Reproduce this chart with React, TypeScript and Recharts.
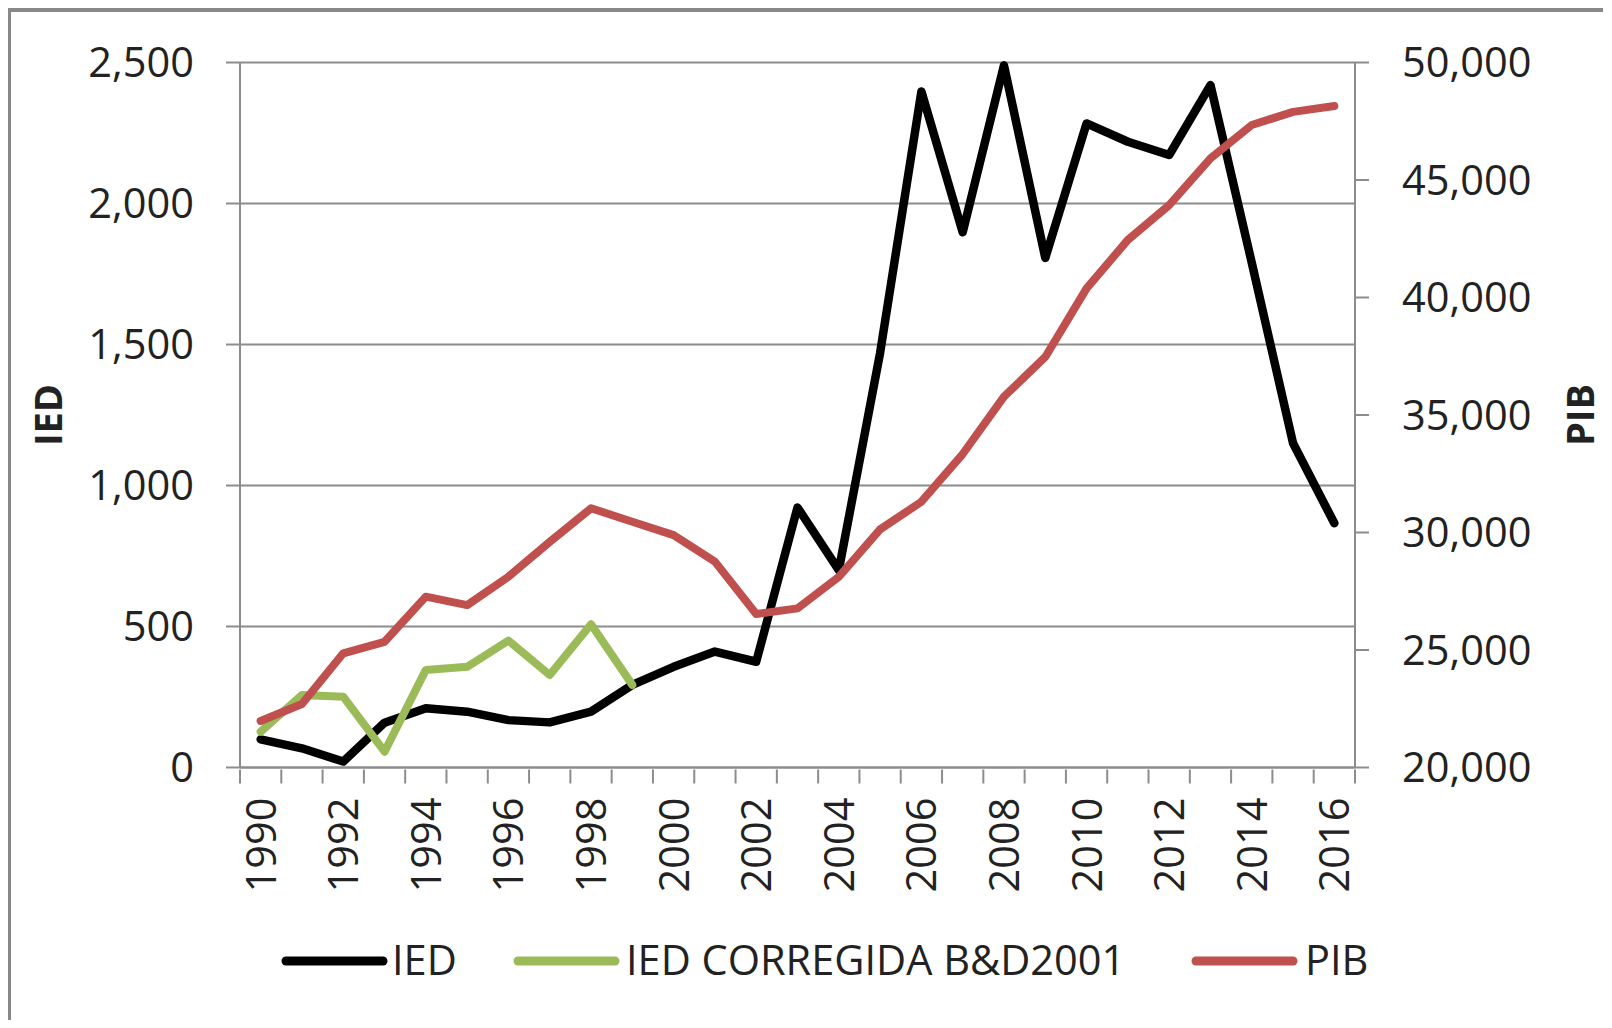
import { LineChart, Line, XAxis, YAxis, CartesianGrid, Legend } from 'recharts';

const years = [
  1990, 1991, 1992, 1993, 1994, 1995, 1996, 1997, 1998, 1999,
  2000, 2001, 2002, 2003, 2004, 2005, 2006, 2007, 2008, 2009,
  2010, 2011, 2012, 2013, 2014, 2015, 2016,
];
const ied = [
  100, 68, 21, 159, 210, 198, 168, 160, 198, 293,
  357, 411, 375, 922, 700, 1470, 2397, 1898, 2490, 1807,
  2284, 2219, 2172, 2420, 1790, 1150, 866,
];
const iedCorregida = [
  127, 257, 251, 56, 346, 357, 450, 328, 508, 293,
  null, null, null, null, null, null, null, null, null, null,
  null, null, null, null, null, null, null,
];
const pib = [
  21980, 22700, 24860, 25350, 27270, 26910, 28120, 29600, 31030, 30460,
  29890, 28760, 26530, 26770, 28110, 30130, 31310, 33340, 35780, 37470,
  40390, 42450, 43930, 45920, 47340, 47900, 48150,
];
const iedTicks = [0, 500, 1000, 1500, 2000, 2500];
const pibTicks = [20000, 25000, 30000, 35000, 40000, 45000, 50000];
const yearLabels = [1990, 1992, 1994, 1996, 1998, 2000, 2002, 2004, 2006, 2008, 2010, 2012, 2014, 2016];

const FONT = '"Open Sans", sans-serif';
const TEXT = '#222';
const GRID = '#8c8c8c';
const FS = 41.5;

const data = years.map((year, i) => ({
  year,
  ied: ied[i],
  iedCorregida: iedCorregida[i],
  pib: pib[i],
}));

// excel style: tick marks between categories, labels on every second year
const xTicks = [...years.map((y) => y - 0.5), years[years.length - 1] + 0.5, ...yearLabels].sort((a, b) => a - b);

const fmt = (v: number) => v.toLocaleString('en-US');

function YearTick({ x, y, payload }: any) {
  const v = payload.value;
  if (v % 1 !== 0) {
    return <line x1={x} y1={y} x2={x} y2={y + 14} stroke={GRID} strokeWidth={2} />;
  }
  const ty = y + 28;
  return (
    <text
      x={x}
      y={ty}
      transform={`rotate(-90, ${x}, ${ty})`}
      textAnchor="end"
      dy="0.36em"
      fill={TEXT}
      fontSize={FS}
      fontFamily={FONT}
    >
      {v}
    </text>
  );
}

function AxisTitle({ viewBox, value, dx }: any) {
  const cx = viewBox.x + dx;
  const cy = viewBox.y + viewBox.height / 2;
  return (
    <text
      x={cx}
      y={cy}
      transform={`rotate(-90, ${cx}, ${cy})`}
      textAnchor="middle"
      dy="0.36em"
      fill={TEXT}
      fontSize={38}
      fontWeight="bold"
      fontFamily={FONT}
    >
      {value}
    </text>
  );
}

const legendPos = [
  { line: 278, text: 384 },
  { line: 510, text: 618 },
  { line: 1188, text: 1297 },
];

function renderLegend({ payload }: any) {
  return (
    <svg width={1596} height={100}>
      {(payload || []).map((entry: any, i: number) => (
        <g key={entry.value}>
          <line
            x1={legendPos[i].line}
            y1={53}
            x2={legendPos[i].line + 97}
            y2={53}
            stroke={entry.color}
            strokeWidth={9}
            strokeLinecap="round"
          />
          <text x={legendPos[i].text} y={67} fill={TEXT} fontSize={FS} fontFamily={FONT}>
            {entry.value}
          </text>
        </g>
      ))}
    </svg>
  );
}

export default function App() {
  return (
    <div
      style={{
        position: 'relative',
        width: 1596,
        height: 1012,
        overflow: 'hidden',
        boxSizing: 'border-box',
        borderLeft: '4px solid #888',
        borderTop: '4px solid #888',
        marginLeft: -1,
        background: '#fff',
      }}
    >
      <div style={{ position: 'absolute', left: -3, top: -4 }}>
        <LineChart width={1596} height={1012} data={data} margin={{ top: 54.5, right: 0, bottom: 0, left: 0 }}>
          <CartesianGrid vertical={false} stroke={GRID} strokeWidth={2} />
          <XAxis
            dataKey="year"
            type="number"
            domain={[1989.5, 2016.5]}
            allowDataOverflow
            ticks={xTicks}
            interval={0}
            height={252.5}
            tickSize={0}
            tickLine={false}
            axisLine={{ stroke: GRID, strokeWidth: 2 }}
            tick={<YearTick />}
          />
          <YAxis
            domain={[0, 2500]}
            ticks={iedTicks}
            width={232}
            tickSize={14}
            tickMargin={32}
            tickFormatter={fmt}
            tick={{ fill: TEXT, fontSize: FS, fontFamily: FONT }}
            tickLine={{ stroke: GRID, strokeWidth: 2 }}
            axisLine={{ stroke: GRID, strokeWidth: 2 }}
            label={<AxisTitle value="IED" dx={40.5} />}
          />
          <YAxis
            yAxisId="pib"
            orientation="right"
            domain={[20000, 50000]}
            ticks={pibTicks}
            width={249}
            tickSize={14}
            tickMargin={33}
            tickFormatter={fmt}
            tick={{ fill: TEXT, fontSize: FS, fontFamily: FONT }}
            tickLine={{ stroke: GRID, strokeWidth: 2 }}
            axisLine={{ stroke: GRID, strokeWidth: 2 }}
            label={<AxisTitle value="PIB" dx={225} />}
          />
          <Legend
            verticalAlign="middle"
            align="center"
            layout="horizontal"
            wrapperStyle={{ left: 0, top: 900, width: 1596, height: 100 }}
            content={renderLegend}
          />
          <Line
            name="IED"
            dataKey="ied"
            stroke="#000000"
            strokeWidth={8.5}
            strokeLinejoin="round"
            strokeLinecap="round"
            dot={false}
            activeDot={false}
            isAnimationActive={false}
          />
          <Line
            name="IED CORREGIDA B&D2001"
            dataKey="iedCorregida"
            stroke="#9bbb59"
            strokeWidth={8}
            strokeLinejoin="round"
            strokeLinecap="round"
            dot={false}
            activeDot={false}
            isAnimationActive={false}
          />
          <Line
            name="PIB"
            dataKey="pib"
            yAxisId="pib"
            stroke="#c0504d"
            strokeWidth={8}
            strokeLinejoin="round"
            strokeLinecap="round"
            dot={false}
            activeDot={false}
            isAnimationActive={false}
          />
        </LineChart>
      </div>
    </div>
  );
}
